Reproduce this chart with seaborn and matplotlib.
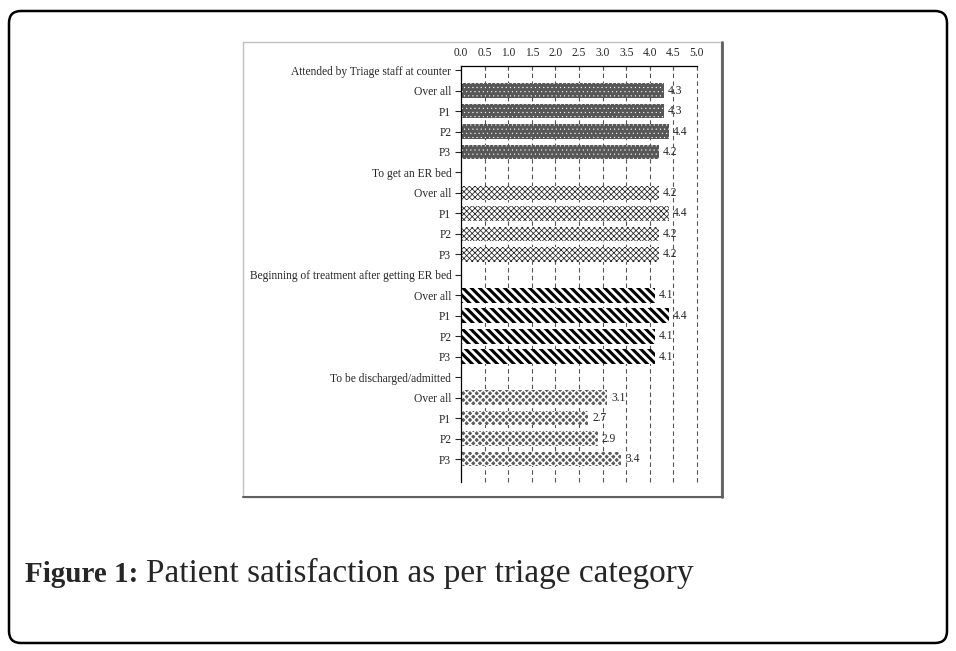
import numpy as np
import pandas as pd
import matplotlib
matplotlib.use('Agg')
import matplotlib.pyplot as plt
import seaborn as sns
from matplotlib.patches import FancyBboxPatch, Rectangle
from matplotlib.transforms import IdentityTransform

# dati
groups = ['Attended by Triage staff at counter', 'To get an ER bed',
          'Beginning of treatment after getting ER bed', 'To be discharged/admitted']
subrows = ['Over all', 'P1', 'P2', 'P3']
attended = [4.3, 4.3, 4.4, 4.2]
er_bed = [4.2, 4.4, 4.2, 4.2]
treatment = [4.1, 4.4, 4.1, 4.1]
discharged = [3.1, 2.7, 2.9, 3.4]
xticks = [0.0, 0.5, 1.0, 1.5, 2.0, 2.5, 3.0, 3.5, 4.0, 4.5, 5.0]

# stile per gruppo: (colore di fondo, hatch, colore hatch, spessore hatch)
styles = [('#575757', '....', 'white', 0.3),
          ('white', 'xxxxxx', '#202020', 0.55),
          ('white', '\\\\\\\\', 'black', 2.2),
          ('#5c5c5c', 'xxxxx', 'white', 1.1)]

# costruisco la tabella: una riga per ogni etichetta (intestazioni senza barra)
rows, labels, vals, gidx = [], [], [], []
for g, (name, values) in enumerate(zip(groups, [attended, er_bed, treatment, discharged])):
    rows.append(f'g{g}_head'); labels.append(name); vals.append(np.nan); gidx.append(g)
    for s, v in zip(subrows, values):
        rows.append(f'g{g}_{s}'); labels.append(s); vals.append(v); gidx.append(g)
df = pd.DataFrame({'row': rows, 'label': labels, 'value': vals, 'group': gidx})

sns.set_style('white')
plt.rcParams['font.family'] = ['Liberation Serif', 'DejaVu Serif']
plt.rcParams['hatch.linewidth'] = 0.8

fig = plt.figure(figsize=(9.56, 6.51), dpi=100)
ax = fig.add_axes([461/956, 1 - 482/651, (697 - 461)/956, (482 - 66)/651])

sns.barplot(data=df, y='row', x='value', order=rows, orient='h', ax=ax,
            width=0.72, color='white', errorbar=None, linewidth=0, zorder=3)

# colori e hatch per ogni barra, in base alla posizione
for p in ax.patches:
    i = int(round(p.get_y() + p.get_height() / 2))
    fc, hatch, hc, hlw = styles[df['group'][i]]
    p.set_facecolor(fc)
    p.set_edgecolor(hc)
    p.set_hatch(hatch)
    p.set_linewidth(0)
    p.set_zorder(3)
    if hasattr(p, 'set_hatch_linewidth'):
        p.set_hatch_linewidth(hlw)

# etichette dei valori
for i, v in enumerate(df['value']):
    if not np.isnan(v):
        ax.text(v + 0.08, i, f'{v:.1f}', va='center', ha='left', fontsize=8.3)

ax.set_xlim(0, 5.0)
ax.set_ylim(20.12, -0.2)
ax.set_xticks(xticks)
ax.set_xticklabels([f'{t:.1f}' for t in xticks], fontsize=8.3)
ax.xaxis.tick_top()
ax.set_yticks(range(len(rows)))
ax.set_yticklabels(labels, fontsize=8.3)
ax.set_xlabel('')
ax.set_ylabel('')
ax.tick_params(axis='x', direction='in', length=3, width=0.8, pad=5, top=True, bottom=False)
ax.tick_params(axis='y', direction='out', length=4, width=0.8, pad=3, left=True)

for x in xticks[1:]:
    ax.axvline(x, color='#555555', lw=0.8, ls=(0, (4, 3)), zorder=1, clip_on=False)

for side in ['right', 'bottom']:
    ax.spines[side].set_visible(False)
for side in ['left', 'top']:
    ax.spines[side].set_color('black')
    ax.spines[side].set_linewidth(0.9)
    ax.spines[side].set_zorder(4)

# cornice del grafico interno
fig.add_artist(Rectangle((243, 651 - 497), 478, 455, transform=IdentityTransform(),
                         fill=False, edgecolor='#c0c0c0', lw=1))
fig.add_artist(plt.Line2D([722, 722], [651 - 497, 651 - 42], transform=IdentityTransform(),
                          color='#606060', lw=2))
fig.add_artist(plt.Line2D([243, 723], [651 - 497, 651 - 497], transform=IdentityTransform(),
                          color='#606060', lw=1.5))

# cornice esterna arrotondata
fig.add_artist(FancyBboxPatch((9, 651 - 643), 938, 632, transform=IdentityTransform(),
                              boxstyle='round,pad=0,rounding_size=12',
                              fill=False, edgecolor='black', lw=1.8))

# didascalia
t1 = fig.text(25/956, 1 - 582/651, 'Figure 1:', fontsize=21, fontweight='bold',
              ha='left', va='baseline')
fig.canvas.draw()
bb = t1.get_window_extent()
fig.text((bb.x1 + 8) / 956, 1 - 582/651, 'Patient satisfaction as per triage category',
         fontsize=24, ha='left', va='baseline')

fig.savefig('out.png', dpi=100)
